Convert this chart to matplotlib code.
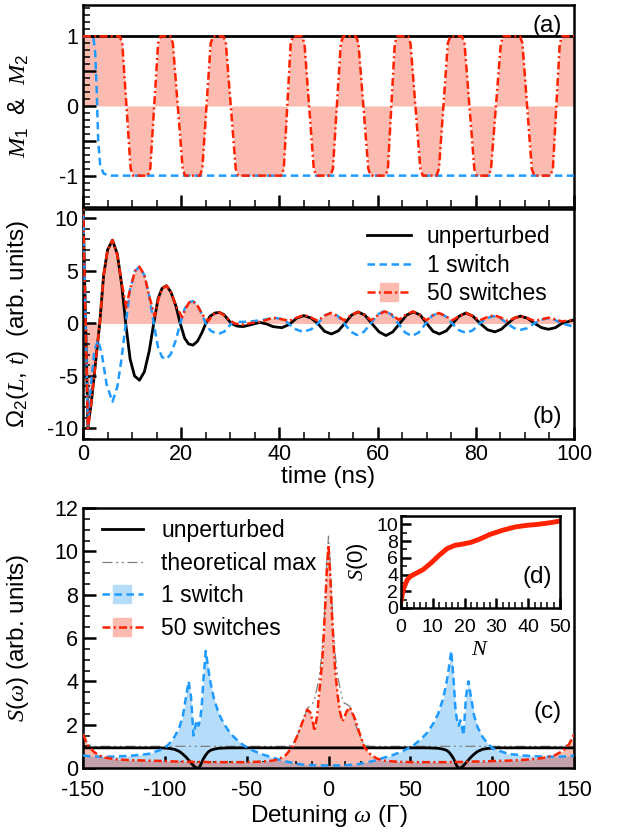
import numpy as np
import matplotlib
matplotlib.use("Agg")
import matplotlib.pyplot as plt
from matplotlib.ticker import MultipleLocator
from matplotlib.lines import Line2D

plt.rcParams['font.family'] = ['Liberation Sans', 'DejaVu Sans']
plt.rcParams['mathtext.fontset'] = 'custom'
plt.rcParams['mathtext.rm'] = 'Liberation Sans'
plt.rcParams['mathtext.it'] = 'Liberation Serif:italic'
plt.rcParams['axes.unicode_minus'] = False

# ---- panel (a): M1 & M2 vs time ----
m1_t = [0, 100]
m1_v = [1, 1]
m2_one_t = [0, 2.1, 2.5, 2.8, 3.1, 3.5, 4.2, 5.5, 100]
m2_one_v = [1, 1, 0.75, 0.2, -0.5, -0.85, -0.97, -1, -1]
m2_fifty_t = [0, 7.5, 8.0, 9.7, 10.2, 13.2, 13.7, 15.3, 15.8, 17.8, 18.3, 20.3, 20.8,
              23.8, 24.3, 26.0, 26.5, 28.6, 29.1, 31.1, 31.6, 40.4, 40.9, 42.3, 42.8,
              44.6, 45.1, 47.0, 47.5, 50.4, 50.9, 52.5, 53.0, 55.6, 56.1, 58.1, 58.6,
              61.6, 62.1, 63.5, 64.0, 66.2, 66.7, 68.7, 69.2, 72.0, 72.5, 74.3, 74.8,
              77.2, 77.7, 79.7, 80.2, 82.6, 83.1, 85.1, 85.6, 89.0, 89.5, 91.4, 91.9,
              95.2, 95.7, 97.1, 97.6, 100]
m2_fifty_v = [1,
              1, 0.9, -0.9, -1, -1, -0.9, 0.9, 1,
              1, 0.9, -0.9, -1, -1, -0.9, 0.9, 1,
              1, 0.9, -0.9, -1, -1, -0.9, 0.9, 1,
              1, 0.9, -0.9, -1, -1, -0.9, 0.9, 1,
              1, 0.9, -0.9, -1, -1, -0.9, 0.9, 1,
              1, 0.9, -0.9, -1, -1, -0.9, 0.9, 1,
              1, 0.9, -0.9, -1, -1, -0.9, 0.9, 1,
              1, 0.9, -0.9, -1, -1, -0.9, 0.9, 1,
              1]

# ---- panel (b): Omega_2(L,t) ----
unp_t = [0.0, 1.0, 1.7, 2.5, 3.4, 4.2, 5.0, 6.0, 7.0, 7.9, 8.7, 9.6, 10.5, 11.5, 12.5,
         13.5, 14.4, 15.3, 16.1, 17.0, 17.9, 18.9, 19.8, 20.7, 21.5, 22.4, 23.3, 24.2,
         25.0, 25.9, 26.9, 27.8, 28.7, 29.5, 30.2, 31.4, 32.6, 34.3, 36.0, 37.4, 38.7,
         40.5, 42.0, 43.5, 45.0, 46.5, 47.8, 49.2, 50.6, 52.0, 53.3, 54.7, 56.0, 57.4,
         58.8, 60.3, 61.7, 63.1, 64.5, 65.9, 67.3, 68.7, 70.0, 71.3, 72.6, 74.0, 75.3,
         76.6, 78.0, 79.4, 80.9, 82.4, 83.9, 85.2, 86.5, 87.8, 89.1, 90.5, 92.0, 93.4,
         94.8, 96.2, 97.5, 100.0]
unp_v = [11.5, -9.9, -7.5, -4.0, 0.0, 4.6, 7.0, 7.94, 6.6, 3.6, 0.0, -3.4, -5.0, -5.4, -4.6,
         -2.6, 0.0, 2.4, 3.35, 3.6, 3.0, 1.7, 0.0, -1.4, -1.95, -2.06, -1.7, -0.9,
         0.0, 0.7, 1.0, 1.05, 0.85, 0.4, 0.0, -0.25, -0.3, -0.1, 0.1, -0.05, -0.3,
         -0.4, -0.1, 0.5, 0.75, 0.5, 0.0, -0.75, -1.0, -0.7, 0.0, 0.8, 1.1, 0.8,
         0.0, -0.8, -1.15, -0.8, 0.0, 0.8, 1.1, 0.8, 0.0, -0.75, -1.0, -0.7, 0.0,
         0.7, 1.0, 0.7, 0.0, -0.6, -0.8, -0.55, 0.0, 0.5, 0.7, 0.5, 0.0, -0.4,
         -0.55, -0.4, 0.0, 0.35]

one_t = [0.0, 1.0, 1.6, 2.3, 3.05, 3.8, 4.8, 6.0, 7.0, 7.9, 8.7, 9.6, 10.6, 11.5, 12.5,
         13.5, 14.4, 15.3, 16.1, 17.0, 17.9, 18.9, 19.8, 20.7, 21.5, 22.4, 23.3, 24.2,
         25.0, 25.9, 26.9, 27.8, 28.7, 29.5, 30.2, 31.4, 32.6, 34.3, 36.0, 37.4, 38.7,
         40.3, 41.5, 43.0, 44.8, 46.5, 47.8, 49.2, 50.4, 51.8, 53.2, 54.6, 55.8, 57.2,
         58.6, 60.0, 61.4, 62.8, 64.2, 65.6, 67.0, 68.4, 69.8, 71.1, 72.4, 73.8, 75.2,
         76.6, 78.0, 79.4, 80.8, 82.2, 83.6, 85.0, 86.4, 87.8, 89.1, 90.5, 91.9, 93.3,
         94.7, 96.1, 97.5, 100.0]
one_v = [11.5, -9.7, -6.0, -2.6, -1.6, -2.8, -5.8, -7.46, -6.0, -3.2, 0.0, 3.3, 5.0, 5.4, 4.6,
         2.6, 0.0, -2.3, -3.2, -3.4, -2.9, -1.6, 0.0, 1.4, 2.0, 2.13, 1.75, 0.9,
         0.0, -0.65, -0.92, -0.95, -0.8, -0.4, 0.0, 0.15, 0.15, 0.2, 0.3, 0.4, 0.55,
         0.45, 0.15, -0.5, -0.8, -0.55, 0.0, 0.75, 1.0, 0.75, 0.0, -0.8, -1.1, -0.8,
         0.0, 0.85, 1.2, 0.85, 0.0, -0.85, -1.2, -0.85, 0.0, 0.75, 1.0, 0.7, 0.0,
         -0.65, -0.9, -0.65, 0.0, 0.5, 0.7, 0.5, 0.0, -0.45, -0.6, -0.45, 0.0, 0.35,
         0.5, 0.35, 0.0, -0.3]

fifty_t = [0.0, 1.0, 1.7, 2.5, 3.4, 4.2, 5.0, 6.0, 7.0, 7.9, 8.8, 9.6, 10.6, 11.5, 12.5,
           13.6, 14.6, 15.4, 16.1, 17.0, 17.9, 19.0, 20.2, 21.0, 21.6, 22.4, 23.3, 24.4,
           25.5, 26.3, 26.9, 27.8, 28.7, 29.8, 30.9, 32.6, 34.3, 36.0, 37.4, 38.7, 40.5,
           42.0, 43.5, 45.0, 46.5, 47.8, 49.2, 50.5, 51.9, 53.2, 54.6, 56.0, 57.4, 58.7,
           60.2, 61.5, 62.9, 64.3, 65.8, 67.2, 68.6, 69.9, 71.2, 72.5, 73.9, 75.2, 76.6,
           78.0, 79.4, 80.8, 82.3, 83.7, 85.1, 86.5, 87.8, 89.1, 90.5, 92.0, 93.4, 94.8,
           96.2, 97.5, 100.0]
fifty_v = [11.5, -10.0, -7.5, -4.0, 0.0, 4.6, 7.0, 7.94, 6.5, 3.8, 1.52, 3.3, 5.0, 5.4, 4.6,
           2.4, 0.7, 2.4, 3.3, 3.59, 3.0, 1.6, 0.6, 1.5, 2.0, 2.13, 1.7, 0.8,
           0.22, 0.75, 1.0, 1.05, 0.8, 0.35, 0.0, -0.1, 0.05, 0.15, 0.35, 0.55, 0.4,
           0.25, 0.55, 0.8, 0.55, 0.25, 0.75, 1.0, 0.7, 0.3, 0.8, 1.1, 0.8, 0.3,
           0.85, 1.15, 0.85, 0.35, 0.85, 1.15, 0.8, 0.3, 0.75, 1.0, 0.7, 0.3, 0.7,
           1.0, 0.7, 0.3, 0.6, 0.8, 0.55, 0.25, 0.5, 0.7, 0.5, 0.25, 0.4, 0.55,
           0.4, 0.2, 0.35]

# ---- panel (c): spectra S(omega) on one detuning grid ----
omega = [-150, -147, -143, -138, -130, -120, -110, -104, -100, -97, -94, -91, -89, -87,
         -85.5, -84, -82.5, -81.5, -80.5, -79.5, -78.5, -77.5, -76.5, -75, -73.5, -72,
         -70, -67, -64, -60, -56, -52, -46, -40, -34, -30, -26, -22, -19, -16, -13, -11,
         -9.5, -8.5, -7, -5.5, -4, -3, -2, -1,
         0,
         1, 2, 3, 4, 5.5, 7, 8.5, 9.5,
         11, 13, 16, 19, 22, 26, 30, 34, 40, 46, 52, 56, 60, 64, 67, 70,
         72, 73.5, 75, 76.5, 77.5, 78.5, 79.5, 80.5, 81.5, 82.5, 84, 85.5,
         87, 89, 91, 94, 97, 100, 104, 110, 120, 130, 138, 143, 147, 150]
s_unp = [0.93, 0.93, 0.93, 0.93, 0.93, 0.93, 0.93, 0.93, 0.92, 0.9, 0.86, 0.76, 0.64, 0.5,
         0.37, 0.24, 0.11, 0.04, 0.0, 0.0, 0.08, 0.25, 0.42, 0.6, 0.74, 0.82,
         0.87, 0.91, 0.92, 0.93, 0.93, 0.93, 0.93, 0.93, 0.93, 0.93, 0.93, 0.93, 0.93, 0.93, 0.93, 0.93,
         0.93, 0.93, 0.93, 0.93, 0.93, 0.93, 0.93, 0.93,
         0.93,
         0.93, 0.93, 0.93, 0.93, 0.93, 0.93, 0.93, 0.93,
         0.93, 0.93, 0.93, 0.93, 0.93, 0.93, 0.93, 0.93, 0.93, 0.93, 0.93, 0.93, 0.93, 0.92, 0.91, 0.87,
         0.82, 0.74, 0.6, 0.42, 0.25, 0.08, 0.0, 0.0, 0.04, 0.11, 0.24, 0.37,
         0.5, 0.64, 0.76, 0.86, 0.9, 0.92, 0.93, 0.93, 0.93, 0.93, 0.93, 0.93, 0.93, 0.93]
s_max = [1.6, 1.08, 1.0, 1.0, 1.0, 1.0, 1.0, 1.0, 1.0, 1.0, 1.0, 1.0, 1.0, 1.0,
         1.0, 1.0, 1.0, 1.0, 1.0, 1.0, 1.0, 1.0, 1.0, 1.0, 1.0, 1.0,
         1.0, 1.0, 1.0, 1.0, 1.0, 1.0, 1.0, 1.0, 1.0, 1.0, 1.0, 1.05, 1.5, 2.1, 2.75, 2.9,
         3.0, 3.2, 3.7, 4.3, 5.3, 6.3, 7.8, 9.5,
         10.7,
         9.5, 7.8, 6.3, 5.3, 4.3, 3.7, 3.2, 3.0,
         2.95, 2.85, 2.1, 1.5, 1.05, 1.0, 1.0, 1.0, 1.0, 1.0, 1.0, 1.0, 1.0, 1.0, 1.0, 1.0,
         1.0, 1.0, 1.0, 1.0, 1.0, 1.0, 1.0, 1.0, 1.0, 1.0, 1.0, 1.0,
         1.0, 1.0, 1.0, 1.0, 1.0, 1.0, 1.0, 1.0, 1.0, 1.0, 1.0, 1.0, 1.08, 1.6]
s_one = [0.58, 0.55, 0.53, 0.52, 0.53, 0.57, 0.65, 0.8, 0.92, 1.15, 1.45, 1.9, 2.4, 3.3,
         4.0, 3.3, 1.5, 1.9, 2.2, 1.95, 2.2, 2.8, 4.0, 5.4, 4.6, 3.9,
         3.2, 2.5, 2.05, 1.6, 1.3, 1.05, 0.8, 0.62, 0.48, 0.38, 0.3, 0.24, 0.19, 0.16, 0.14, 0.13,
         0.13, 0.13, 0.12, 0.12, 0.12, 0.12, 0.12, 0.12,
         0.12,
         0.12, 0.12, 0.12, 0.12, 0.12, 0.12, 0.13, 0.13,
         0.13, 0.14, 0.16, 0.19, 0.24, 0.3, 0.38, 0.48, 0.62, 0.8, 1.05, 1.3, 1.6, 2.05, 2.5, 3.2,
         3.9, 4.6, 5.4, 4.0, 2.8, 2.2, 1.95, 2.2, 1.9, 1.5, 3.3, 4.0,
         3.3, 2.4, 1.9, 1.45, 1.15, 0.92, 0.8, 0.65, 0.57, 0.53, 0.52, 0.53, 0.55, 0.58]
s_fifty = [1.55, 1.05, 0.72, 0.5, 0.4, 0.36, 0.34, 0.33, 0.32, 0.31, 0.3, 0.3, 0.3, 0.29,
           0.29, 0.29, 0.28, 0.28, 0.28, 0.28, 0.28, 0.28, 0.28, 0.28, 0.27, 0.27,
           0.27, 0.27, 0.27, 0.27, 0.27, 0.27, 0.28, 0.3, 0.34, 0.42, 0.6, 0.98, 1.5, 2.1, 2.7, 2.55,
           2.1, 1.7, 2.4, 3.6, 4.8, 6.0, 7.5, 9.2,
           10.3,
           9.0, 7.3, 5.8, 4.6, 3.4, 2.6, 2.15, 2.3,
           2.6, 2.8, 2.3, 1.6, 0.95, 0.6, 0.42, 0.34, 0.3, 0.28, 0.27, 0.27, 0.27, 0.27, 0.27, 0.27,
           0.27, 0.27, 0.28, 0.28, 0.28, 0.28, 0.28, 0.28, 0.28, 0.28, 0.29, 0.29,
           0.29, 0.3, 0.3, 0.3, 0.31, 0.32, 0.33, 0.34, 0.38, 0.45, 0.58, 0.78, 1.1, 1.55]

# ---- panel (d): S(0) vs number of switches ----
n_switch = [0, 0.5, 1, 2, 3, 4, 5, 7, 9.5, 12, 14.5, 17, 19.5, 22, 24.5, 28, 32, 36, 40, 43, 47, 50]
s_zero = [0.8, 1.8, 2.5, 3.4, 3.8, 4.0, 4.2, 4.6, 5.4, 6.3, 7.1, 7.5, 7.65, 7.85, 8.2, 8.8,
          9.3, 9.7, 9.9, 10.0, 10.2, 10.4]

RED = '#ff2200'
BLUE = '#1f9bff'
PINK = '#fbbbb1'
LBLUE = '#b5dcf8'
MAUVE = '#c3a2ab'
GRAY = '#7f7f7f'

red_ls = (0, (3.2, 1.3, 0.8, 1.3))
blue_ls = (0, (3.0, 1.8))
gray_ls = (0, (8, 3, 1.5, 3, 1.5, 3))

TICK_FS = 15.5
LAB_FS = 17.5
LEG_FS = 16.5


def style(ax, fs=TICK_FS, maj=9, mnr=5):
    for s in ax.spines.values():
        s.set_linewidth(1.8)
    ax.tick_params(which='both', direction='in', top=False, right=False, labelsize=fs)
    ax.tick_params(which='major', length=maj, width=1.8)
    ax.tick_params(which='minor', length=mnr, width=1.1)


fig = plt.figure(figsize=(6.2, 8.35), dpi=100)
ax_a = fig.add_axes([83 / 620, 1 - 207 / 835, 491 / 620, 202 / 835])
ax_b = fig.add_axes([83 / 620, 1 - 439 / 835, 491 / 620, 230 / 835])
ax_c = fig.add_axes([83 / 620, 1 - 768 / 835, 491 / 620, 260 / 835])
ax_d = fig.add_axes([401 / 620, 1 - 608 / 835, 159 / 620, 92 / 835])

# (a)
ax_a.fill_between(m2_fifty_t, m2_fifty_v, 0, color=PINK, lw=0, zorder=1)
ax_a.plot(m1_t, m1_v, color='black', lw=2, zorder=3)
ax_a.plot(m2_one_t, m2_one_v, color=BLUE, lw=1.8, ls=blue_ls, zorder=4)
ax_a.plot(m2_fifty_t, m2_fifty_v, color=RED, lw=1.8, ls=red_ls, zorder=5)
ax_a.set_xlim(0, 100)
ax_a.set_ylim(-1.45, 1.45)
ax_a.set_yticks([-1, -0.5, 0, 0.5, 1])
ax_a.set_yticklabels(['-1', '', '0', '', '1'])
ax_a.yaxis.set_minor_locator(MultipleLocator(0.1))
ax_a.xaxis.set_major_locator(MultipleLocator(20))
ax_a.xaxis.set_minor_locator(MultipleLocator(5))
ax_a.tick_params(labelbottom=False)
style(ax_a)
ax_a.set_ylabel(r'$M_1$  &  $M_2$', fontsize=LAB_FS)
ax_a.yaxis.set_label_coords(-0.105, 0.5)
ax_a.text(0.975, 0.95, '(a)', transform=ax_a.transAxes, ha='right', va='top', fontsize=LAB_FS)

# (b)
ax_b.fill_between(fifty_t, fifty_v, 0, color=PINK, lw=0, zorder=1)
ax_b.plot(unp_t, unp_v, color='black', lw=2, zorder=3)
ax_b.plot(one_t, one_v, color=BLUE, lw=1.8, ls=blue_ls, zorder=4)
ax_b.plot(fifty_t, fifty_v, color=RED, lw=1.8, ls=red_ls, zorder=5)
ax_b.set_xlim(0, 100)
ax_b.set_ylim(-11, 10.9)
ax_b.yaxis.set_major_locator(MultipleLocator(5))
ax_b.yaxis.set_minor_locator(MultipleLocator(1))
ax_b.xaxis.set_major_locator(MultipleLocator(20))
ax_b.xaxis.set_minor_locator(MultipleLocator(5))
style(ax_b)
ax_b.set_xlabel('time (ns)', fontsize=LAB_FS, labelpad=1)
ax_b.set_ylabel(r'$\mathit{\Omega}_2(L,\,t)$  (arb. units)', fontsize=LAB_FS)
ax_b.yaxis.set_label_coords(-0.105, 0.5)
ax_b.text(0.975, 0.05, '(b)', transform=ax_b.transAxes, ha='right', va='bottom', fontsize=LAB_FS)

h_unp = Line2D([], [], color='black', lw=2)
h_one = Line2D([], [], color=BLUE, lw=1.8, ls=blue_ls)
h_fifty = Line2D([], [], color=RED, lw=1.8, ls=red_ls)
sq_red = Line2D([], [], marker='s', ms=13, color=PINK, ls='none')
sq_blue = Line2D([], [], marker='s', ms=13, color=LBLUE, ls='none')
h_max = Line2D([], [], color=GRAY, lw=0.9, ls=gray_ls)

ax_b.legend([h_unp, h_one, (sq_red, h_fifty)], ['unperturbed', '1 switch', '50 switches'],
            loc='upper right', bbox_to_anchor=(0.985, 1.0), frameon=False, fontsize=LEG_FS,
            handlelength=1.9, labelspacing=0.25, handletextpad=0.7, borderaxespad=0.3)

# (c)
s_low = np.minimum(s_one, s_fifty)
ax_c.fill_between(omega, s_one, 0, color=LBLUE, lw=0, zorder=1)
ax_c.fill_between(omega, s_fifty, 0, color=PINK, lw=0, zorder=1)
ax_c.fill_between(omega, s_low, 0, color=MAUVE, lw=0, zorder=2)
ax_c.plot(omega, s_max, color=GRAY, lw=0.9, ls=gray_ls, zorder=3)
ax_c.plot(omega, s_unp, color='black', lw=2, zorder=4)
ax_c.plot(omega, s_one, color=BLUE, lw=1.8, ls=blue_ls, zorder=5)
ax_c.plot(omega, s_fifty, color=RED, lw=1.8, ls=red_ls, zorder=6)
ax_c.set_xlim(-150, 150)
ax_c.set_ylim(0, 12)
ax_c.xaxis.set_major_locator(MultipleLocator(50))
ax_c.xaxis.set_minor_locator(MultipleLocator(10))
ax_c.yaxis.set_major_locator(MultipleLocator(2))
ax_c.yaxis.set_minor_locator(MultipleLocator(0.5))
style(ax_c)
ax_c.tick_params(axis='x', pad=9)
ax_c.set_xlabel(r'Detuning $\omega$ ($\Gamma$)', fontsize=LAB_FS, labelpad=1)
ax_c.set_ylabel(r'$S(\omega)$ (arb. units)', fontsize=LAB_FS)
ax_c.yaxis.set_label_coords(-0.105, 0.5)
ax_c.text(0.975, 0.215, '(c)', transform=ax_c.transAxes, ha='right', va='center', fontsize=LAB_FS)
ax_c.legend([h_unp, h_max, (sq_blue, h_one), (sq_red, h_fifty)],
            ['unperturbed', 'theoretical max', '1 switch', '50 switches'],
            loc='upper left', bbox_to_anchor=(0.01, 1.01), frameon=False, fontsize=LEG_FS,
            handlelength=1.8, labelspacing=0.42, handletextpad=0.8, borderaxespad=0.2)

# (d) inset
ax_d.plot(n_switch, s_zero, color=RED, lw=3.5, solid_capstyle='round')
ax_d.set_xlim(0, 50)
ax_d.set_ylim(0, 11)
ax_d.xaxis.set_major_locator(MultipleLocator(10))
ax_d.xaxis.set_minor_locator(MultipleLocator(2))
ax_d.yaxis.set_major_locator(MultipleLocator(2))
ax_d.yaxis.set_minor_locator(MultipleLocator(1))
style(ax_d, fs=14, maj=7, mnr=4)
ax_d.tick_params(axis='y', pad=2)
ax_d.tick_params(axis='x', pad=8)
ax_d.set_xlabel(r'$N$', fontsize=16, labelpad=2)
ax_d.set_ylabel(r'$S(0)$', fontsize=16, labelpad=5)
ax_d.text(0.95, 0.22, '(d)', transform=ax_d.transAxes, ha='right', va='bottom', fontsize=LAB_FS)

fig.savefig('out.png', dpi=100)
